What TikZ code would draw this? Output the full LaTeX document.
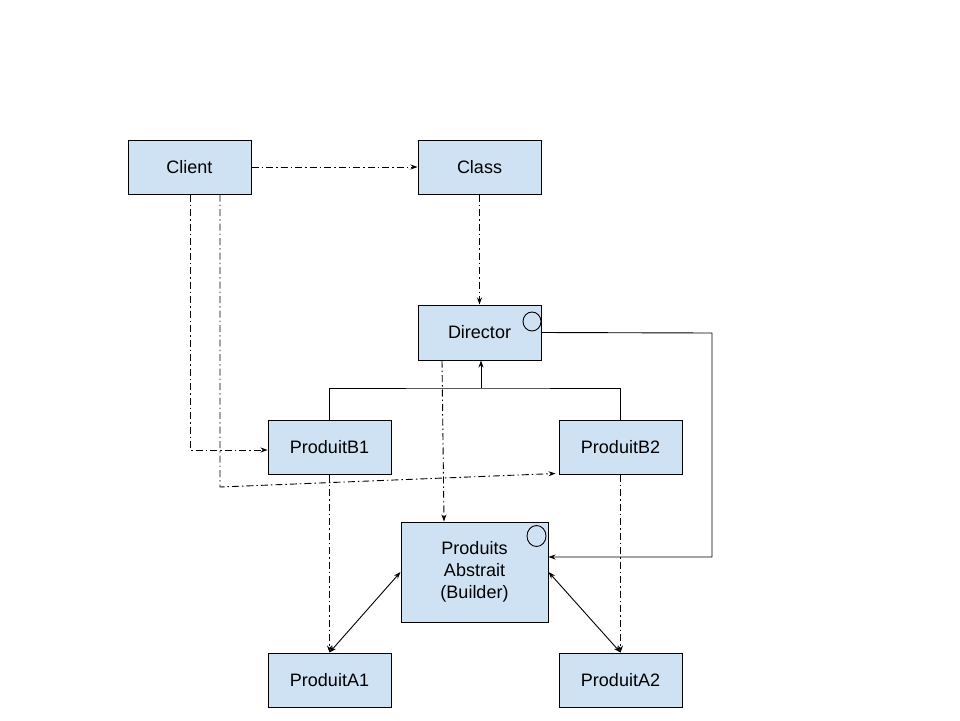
\documentclass[tikz,border=0pt]{standalone}
\usepackage{fontspec}
\setmainfont{Liberation Sans}
\usetikzlibrary{arrows.meta}
\definecolor{boxfill}{HTML}{CFE2F3}
\begin{document}
\begin{tikzpicture}[x=1pt,y=-1pt,
  cls/.style={draw=black,line width=1pt,fill=boxfill,minimum width=123pt,
    minimum height=54pt,inner sep=0pt,font=\fontsize{18}{22}\selectfont,align=center},
  dd/.style={line width=0.9pt,dash pattern=on 7pt off 3pt on 1.5pt off 3pt},
  link/.style={line width=0.9pt},
  tip/.style={-{Stealth[length=7pt,width=5pt]}},
  bitip/.style={{Stealth[length=7pt,width=5pt]}-{Stealth[length=7pt,width=5pt]}}]
\useasboundingbox (0,0) rectangle (960,720);
\fill[white] (0,0) rectangle (960,720);

% classes
\node[cls] (client) at (189.5,167) {Client};
\node[cls] (class) at (479.5,167) {Class};
\node[cls,minimum height=55pt] (director) at (479.5,332.5) {Director};
\node[cls] (b1) at (329.5,447) {ProduitB1};
\node[cls] (b2) at (620.5,447) {ProduitB2};
\node[cls,minimum width=147pt,minimum height=100pt] (builder) at (474.5,572)
  {Produits\\Abstrait\\(Builder)};
\node[cls] (a1) at (329.5,680) {ProduitA1};
\node[cls] (a2) at (620.5,680) {ProduitA2};

% small markers in the corners
\draw[line width=0.9pt] ([xshift=52.5pt,yshift=11pt]director.center) ellipse (9 and 9.5);
\draw[line width=0.9pt] ([xshift=62pt,yshift=36pt]builder.center) ellipse (9.5 and 10.5);

% dependencies (dash-dot)
\draw[dd,tip] (client) -- (class);
\draw[dd,tip] (class) -- (director);
\draw[dd,tip] ([xshift=0.5pt]client.south) |- ([yshift=-3pt]b1.west);
\coordinate (cb) at (220,487);
\draw[dd,tip] (client.south -| cb) -- (cb) -- ([xshift=-3pt,yshift=1pt]b2.south west);
\draw[dd,tip] ([xshift=-37.5pt]director.south) -- ([xshift=-30.5pt]builder.north);
\draw[dd,tip] (b1.south) -- (a1.north);
\draw[dd,tip] (b2.south) -- (a2.north);

% solid links
\coordinate (jn) at (481,388);
\draw[link] (b1.north) |- (jn) -| (b2.north);
\draw[link,tip] (jn) -- (jn |- director.south);
\coordinate (rt) at (712,333);
\draw[link,tip] (director.east) -- (rt) |- ([yshift=15pt]builder.east);
\draw[link,bitip] (builder.west) -- (a1.north);
\draw[link,bitip] (builder.east) -- (a2.north);
\end{tikzpicture}
\end{document}
